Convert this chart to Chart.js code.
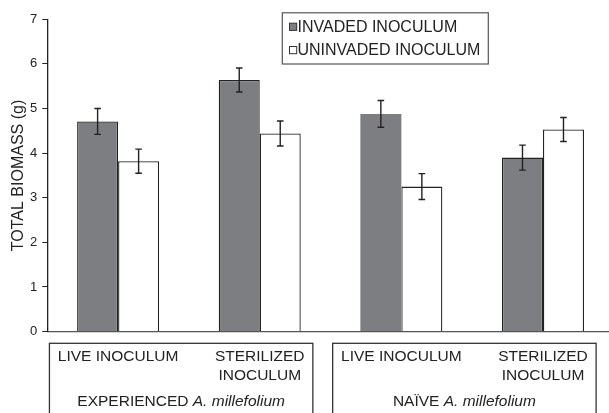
<!DOCTYPE html>
<html>
<head>
<meta charset="utf-8">
<script src="https://cdn.jsdelivr.net/npm/chart.js@4.4.1/dist/chart.umd.min.js"></script>
<style>
  html, body { margin: 0; padding: 0; background: #fff; overflow: hidden; }
  #wrap { position: absolute; left: 0; top: 0; width: 616px; height: 413px; }
</style>
</head>
<body>
<div id="wrap"><canvas id="c"></canvas></div>
<script>
const categories = [['LIVE INOCULUM'], ['STERILIZED', 'INOCULUM'], ['LIVE INOCULUM'], ['STERILIZED', 'INOCULUM']];
const seriesNames = ['INVADED INOCULUM', 'UNINVADED INOCULUM'];
const invaded = [4.71, 5.64, 4.88, 3.90];
const uninvaded = [3.82, 4.44, 3.25, 4.53];
const invadedErr = [0.29, 0.27, 0.30, 0.28];
const uninvadedErr = [0.27, 0.28, 0.29, 0.27];
const groupNames = ['EXPERIENCED', 'NAÏVE'];
const groupSpecies = 'A. millefolium';
const yTicks = [0, 1, 2, 3, 4, 5, 6, 7];

const FONT = '"Liberation Sans", Arial, Helvetica, sans-serif';
const INK = '#222';
const GRAY = '#7d7e82';

const errorBars = {
  id: 'errorBars',
  afterDatasetsDraw(chart) {
    const ctx = chart.ctx;
    const y = chart.scales.y;
    const errs = [invadedErr, uninvadedErr];
    ctx.save();
    ctx.strokeStyle = INK;
    ctx.lineWidth = 1.4;
    chart.data.datasets.forEach((ds, di) => {
      const meta = chart.getDatasetMeta(di);
      meta.data.forEach((bar, i) => {
        const v = ds.data[i], e = errs[di][i];
        const x = bar.x;
        const yt = y.getPixelForValue(v + e), yb = y.getPixelForValue(v - e);
        ctx.beginPath();
        ctx.moveTo(x, yt); ctx.lineTo(x, yb);
        ctx.moveTo(x - 3.3, yt); ctx.lineTo(x + 3.3, yt);
        ctx.moveTo(x - 3.3, yb); ctx.lineTo(x + 3.3, yb);
        ctx.stroke();
      });
    });
    ctx.restore();
  }
};

const decorations = {
  id: 'decorations',
  afterDraw(chart) {
    const ctx = chart.ctx;
    const xs = chart.scales.x;
    const step = xs.width / categories.length;
    ctx.save();
    const boxTop = xs.top + 11.7;
    ctx.strokeStyle = '#333';
    ctx.lineWidth = 1.3;
    ctx.fillStyle = INK;
    ctx.textBaseline = 'middle';
    for (let g = 0; g < groupNames.length; g++) {
      const c0 = xs.getPixelForValue(g * 2);
      const c1 = xs.getPixelForValue(g * 2 + 1);
      const left = c0 - 0.485 * step;
      const right = c1 + 0.375 * step;
      ctx.strokeRect(left, boxTop, right - left, 200);
      const normal = groupNames[g] + ' ';
      ctx.font = '15.5px ' + FONT;
      const w1 = ctx.measureText(normal).width;
      ctx.font = 'italic 15.5px ' + FONT;
      const w2 = ctx.measureText(groupSpecies).width;
      const cx = (left + right) / 2;
      const ty = xs.top + 70.3;
      let sx = cx - (w1 + w2) / 2;
      ctx.textAlign = 'left';
      ctx.font = '15.5px ' + FONT;
      ctx.fillText(normal, sx, ty);
      ctx.font = 'italic 15.5px ' + FONT;
      ctx.fillText(groupSpecies, sx + w1, ty);
    }
    const lx = 282.3, ly = 12.8, lw = 206, lh = 51.2;
    ctx.strokeStyle = '#555';
    ctx.lineWidth = 1.2;
    ctx.strokeRect(lx, ly, lw, lh);
    const rows = [27.0, 50.3];
    chart.data.datasets.forEach((ds, i) => {
      const ry = rows[i];
      ctx.fillStyle = ds.backgroundColor;
      ctx.fillRect(289.5, ry - 3.8, 7.2, 7.2);
      ctx.strokeStyle = '#333';
      ctx.lineWidth = 1;
      ctx.strokeRect(289.5, ry - 3.8, 7.2, 7.2);
      ctx.fillStyle = INK;
      ctx.font = '16px ' + FONT;
      ctx.textAlign = 'left';
      ctx.fillText(ds.label, 297.5, ry + 0.5);
    });
    ctx.restore();
  }
};

new Chart(document.getElementById('c'), {
  type: 'bar',
  data: {
    labels: categories,
    datasets: [
      {
        label: seriesNames[0],
        data: invaded,
        backgroundColor: GRAY,
        borderColor: INK,
        borderWidth: [1.3, 1.3, 0, 1.3],
        borderSkipped: 'start'
      },
      {
        label: seriesNames[1],
        data: uninvaded,
        backgroundColor: '#ffffff',
        borderColor: INK,
        borderWidth: 1.3,
        borderSkipped: 'start'
      }
    ]
  },
  options: {
    responsive: true,
    maintainAspectRatio: false,
    animation: false,
    devicePixelRatio: 1,
    layout: { padding: { top: 19.3, right: 2.2, left: 0, bottom: 0 } },
    datasets: { bar: { barPercentage: 1, categoryPercentage: 0.579 } },
    plugins: { legend: { display: false }, tooltip: { enabled: false }, title: { display: false } },
    scales: {
      x: {
        grid: { display: false, drawTicks: false, tickLength: 0 },
        border: { display: true, color: '#555', width: 1.3 },
        ticks: {
          color: INK,
          font: { family: FONT, size: 15.5, lineHeight: 1.2 },
          padding: 16,
          maxRotation: 0,
          autoSkip: false
        },
        afterFit(scale) { scale.height = 81.4; }
      },
      y: {
        min: 0,
        max: 7,
        afterBuildTicks(scale) { scale.ticks = yTicks.map(v => ({ value: v })); },
        grid: { display: true, drawOnChartArea: false, drawTicks: true, tickLength: 5, color: INK, lineWidth: 1 },
        border: { display: true, color: INK, width: 1.3 },
        ticks: {
          color: INK,
          font: { family: FONT, size: 13 },
          padding: 5
        },
        title: {
          display: true,
          text: 'TOTAL BIOMASS (g)',
          color: INK,
          font: { family: FONT, size: 16, lineHeight: 1.2 },
          padding: { top: 9, bottom: 0 }
        },
        afterFit(scale) { scale.width = 47.3; }
      }
    }
  },
  plugins: [errorBars, decorations]
});
</script>
</body>
</html>
